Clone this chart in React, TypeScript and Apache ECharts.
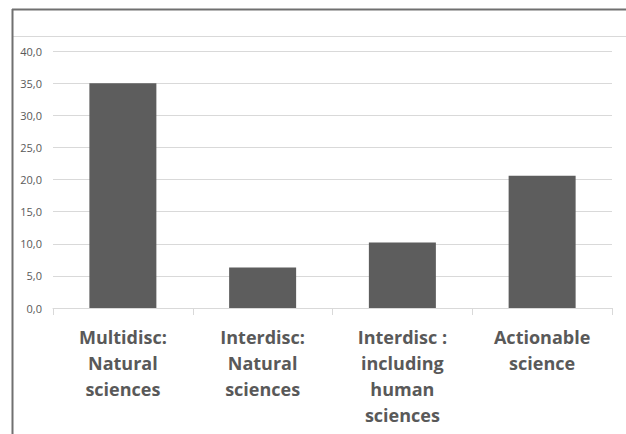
import React, { useEffect, useRef } from "react";
import * as echarts from "echarts";

const categories = [
  "Multidisc:\nNatural\nsciences",
  "Interdisc:\nNatural\nsciences",
  "Interdisc :\nincluding\nhuman\nsciences",
  "Actionable\nscience",
];
const values = [35.0, 6.3, 10.2, 20.6];
const yMin = 0;
const yMax = 40;
const yInterval = 5;

export default function App() {
  const ref = useRef<HTMLDivElement>(null);
  useEffect(() => {
    document.body.style.margin = "0";
    const chart = echarts.init(ref.current!, null, { renderer: "svg" });
    chart.setOption({
      animation: false,
      backgroundColor: "#ffffff",
      grid: { left: 53, right: 14, top: 51, bottom: 126, containLabel: false },
      xAxis: {
        type: "category",
        data: categories,
        axisLine: { show: true, lineStyle: { color: "#d9d9d9", width: 1 } },
        axisTick: { show: true, length: 7, lineStyle: { color: "#d9d9d9" } },
        axisLabel: {
          interval: 0,
          margin: 16,
          color: "#595959",
          fontFamily: "Open Sans",
          fontWeight: "bold",
          fontSize: 18,
          lineHeight: 26,
        },
      },
      yAxis: {
        type: "value",
        min: yMin,
        max: yMax,
        interval: yInterval,
        axisLine: { show: false },
        axisTick: { show: false },
        splitLine: { show: true, lineStyle: { color: "#d9d9d9", width: 1 } },
        axisLabel: {
          margin: 11,
          color: "#595959",
          fontFamily: "Open Sans",
          fontSize: 11,
          formatter: (v: number) => v.toFixed(1).replace(".", ","),
        },
      },
      series: [
        {
          type: "bar",
          data: values,
          barWidth: 67,
          itemStyle: { color: "#5d5d5d" },
        },
      ],
      graphic: [
        {
          type: "line",
          shape: { x1: 12, y1: 36.5, x2: 626, y2: 36.5 },
          style: { stroke: "#d9d9d9", lineWidth: 1 },
        },
        {
          type: "line",
          shape: { x1: 12, y1: 9.5, x2: 626, y2: 9.5 },
          style: { stroke: "#707070", lineWidth: 2 },
        },
        {
          type: "line",
          shape: { x1: 12.5, y1: 9, x2: 12.5, y2: 434 },
          style: { stroke: "#707070", lineWidth: 2 },
        },
      ],
    });
    return () => chart.dispose();
  }, []);
  return (
    <div
      ref={ref}
      style={{ width: 626, height: 434, position: "fixed", left: 0, top: 0 }}
    />
  );
}
